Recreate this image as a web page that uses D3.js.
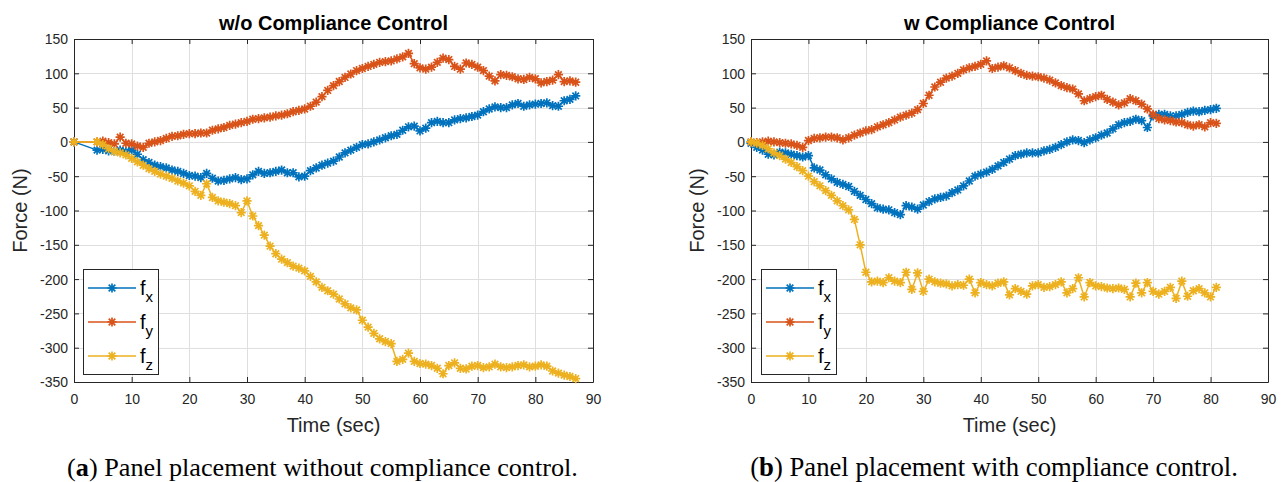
<!DOCTYPE html>
<html><head><meta charset="utf-8">
<script src="https://cdn.jsdelivr.net/npm/d3@7"></script>
<style>body{margin:0;background:#fff} svg{display:block}</style>
</head><body>
<svg id="c" width="1285" height="482"></svg>
<script>
// ---------------- DATA ----------------
const timeA = [0,
 4,5,6,7,8,9,10,11,12,13,
 14,15,16,17,18,19,20,21,22,23,
 24,25,26,27,28,29,30,31,32,33,
 34,35,36,37,38,39,40,41,42,43,
 44,45,46,47,48,49,50,51,52,53,
 54,55,56,57,58,59,60,61,62,63,
 64,65,66,67,68,69,70,71,72,73,
 74,75,76,77,78,79,80,81,82,83,
 84,85,86,87];
const fxA = [0,
 -12,-11,-13,-14,-12,-14,-12,-18,-26,-30,
 -34,-36,-38,-41,-43,-46,-49,-50,-52,-46,
 -53,-57,-56,-54,-52,-55,-54,-48,-43,-46,
 -45,-43,-41,-45,-45,-51,-50,-42,-38,-34,
 -31,-28,-22,-16,-12,-8,-4,-3,0,3,
 6,9,11,17,22,23,16,20,28,30,
 28,28,32,34,35,37,39,44,48,51,
 50,50,54,56,52,54,55,56,57,53,
 52,60,62,67];
const fyA = [0,
 0,1,-1,-3,7,-2,-3,-6,-8,-2,
 0,2,5,8,9,11,12,12,13,13,
 17,19,21,24,26,28,30,33,34,35,
 36,38,39,41,44,46,48,52,58,66,
 75,82,88,94,99,104,107,110,113,116,
 117,118,121,124,129,114,108,106,109,116,
 122,120,110,106,115,113,109,104,96,89,
 98,97,95,92,91,94,92,86,88,90,
 98,88,89,87];
const fzA = [0,
 0,-4,-10,-14,-16,-19,-24,-29,-34,-39,
 -43,-47,-50,-53,-57,-60,-64,-72,-78,-61,
 -81,-86,-88,-90,-93,-103,-86,-108,-122,-136,
 -152,-163,-171,-176,-181,-184,-188,-196,-204,-212,
 -217,-222,-229,-236,-242,-245,-260,-270,-279,-287,
 -291,-294,-320,-317,-308,-320,-323,-324,-326,-330,
 -338,-326,-322,-330,-331,-327,-326,-329,-328,-324,
 -328,-329,-328,-326,-325,-328,-327,-325,-327,-334,
 -337,-340,-342,-345];

const timeB = [
 0,1,2,3,4,5,6,7,8,9,
 10,11,12,13,14,15,16,17,18,19,
 20,21,22,23,24,25,26,27,28,29,
 30,31,32,33,34,35,36,37,38,39,
 40,41,42,43,44,45,46,47,48,49,
 50,51,52,53,54,55,56,57,58,59,
 60,61,62,63,64,65,66,67,68,69,
 70,71,72,73,74,75,76,77,78,79,
 80,81];
const fxB = [
 -2,-8,-12,-18,-19,-15,-16,-18,-20,-22,
 -20,-38,-41,-48,-54,-59,-62,-65,-72,-78,
 -84,-90,-96,-98,-99,-103,-106,-93,-95,-98,
 -92,-87,-83,-81,-79,-74,-70,-64,-57,-50,
 -47,-44,-40,-35,-30,-25,-20,-18,-16,-16,
 -16,-13,-11,-8,-4,0,3,2,-1,3,
 6,10,13,19,25,28,30,33,31,21,
 38,40,40,38,38,40,43,45,44,46,
 47,49];
const fyB = [
 0,-1,0,1,0,-1,-2,-3,-5,-8,
 2,5,6,7,7,6,3,6,10,13,
 16,18,22,25,28,32,36,39,42,47,
 56,68,80,87,93,96,100,105,108,110,
 113,118,107,109,111,108,104,100,97,96,
 95,93,90,86,82,79,77,70,60,63,
 66,68,62,58,54,57,63,60,55,48,
 40,34,32,31,29,28,25,23,25,22,
 28,27];
const fzB = [
 0,-2,-5,-10,-16,-20,-25,-30,-36,-42,
 -50,-58,-64,-71,-78,-86,-93,-99,-113,-150,
 -190,-204,-203,-205,-198,-203,-205,-190,-215,-191,
 -218,-200,-204,-206,-207,-210,-208,-209,-200,-220,
 -205,-208,-210,-206,-204,-223,-214,-218,-222,-210,
 -208,-212,-211,-208,-204,-220,-214,-198,-226,-205,
 -210,-211,-213,-214,-213,-215,-226,-206,-220,-205,
 -218,-222,-218,-212,-228,-203,-225,-217,-214,-220,
 -226,-212];

const xTicks = [0,10,20,30,40,50,60,70,80,90];
const yTicks = [150,100,50,0,-50,-100,-150,-200,-250,-300,-350];
const seriesSubs = ["x","y","z"];
const seriesColors = ["#0072BD","#D95319","#EDB120"];
const titles = ["w/o Compliance Control","w Compliance Control"];
const captionLetters = ["a","b"];
const captionTexts = [" Panel placement without compliance control."," Panel placement with compliance control."];
const xLabel = "Time (sec)";
const yLabel = "Force (N)";

// ---------------- DRAW ----------------
const svg = d3.select("#c");
const AX = "#262626";
const SANS = "'Liberation Sans', Arial, Helvetica, sans-serif";

const panels = [
  {left:74, right:593, top:39, bottom:382, time:timeA, series:[fxA,fyA,fzA], legX:83, capCenter:322.5, capWidth:511},
  {left:751, right:1268, top:39, bottom:382, time:timeB, series:[fxB,fyB,fzB], legX:761, capCenter:994, capWidth:488}
];

function asterisk(r) {
  const d = r*0.72;
  return `M${-r},0L${r},0M0,${-r}L0,${r}M${-d},${-d}L${d},${d}M${-d},${d}L${d},${-d}`;
}
const MR = 4.6, MW = 1.7;

panels.forEach((p, pi) => {
  const x = d3.scaleLinear().domain([0,90]).range([p.left, p.right]);
  const y = d3.scaleLinear().domain([-350,150]).range([p.bottom, p.top]);
  const g = svg.append("g");

  // grid
  g.append("g").selectAll("line").data(xTicks.slice(1,-1)).join("line")
    .attr("x1", d => Math.round(x(d))+0.5).attr("x2", d => Math.round(x(d))+0.5)
    .attr("y1", p.top).attr("y2", p.bottom)
    .attr("stroke", "#dfdfdf").attr("stroke-width", 1);
  g.append("g").selectAll("line").data(yTicks.slice(1,-1)).join("line")
    .attr("y1", d => Math.round(y(d))+0.5).attr("y2", d => Math.round(y(d))+0.5)
    .attr("x1", p.left).attr("x2", p.right)
    .attr("stroke", "#dfdfdf").attr("stroke-width", 1);

  // axes
  const tl = 5;
  const xb = g.append("g").attr("transform", `translate(0,${p.bottom})`)
    .call(d3.axisBottom(x).tickValues(xTicks).tickSizeInner(-tl).tickSizeOuter(0).tickPadding(12).tickFormat(d3.format("d")));
  const yl = g.append("g").attr("transform", `translate(${p.left},0)`)
    .call(d3.axisLeft(y).tickValues(yTicks).tickSizeInner(-tl).tickSizeOuter(0).tickPadding(6).tickFormat(d => d));
  const xt = g.append("g").attr("transform", `translate(0,${p.top})`)
    .call(d3.axisTop(x).tickValues(xTicks).tickSizeInner(-tl).tickSizeOuter(0).tickFormat(""));
  const yr = g.append("g").attr("transform", `translate(${p.right},0)`)
    .call(d3.axisRight(y).tickValues(yTicks).tickSizeInner(-tl).tickSizeOuter(0).tickFormat(""));
  [xb,yl,xt,yr].forEach(a => {
    a.select(".domain").attr("stroke", AX).attr("stroke-width", 1);
    a.selectAll(".tick line").attr("stroke", AX);
    a.selectAll(".tick text").attr("fill", AX).attr("font-family", SANS).attr("font-size", 14);
  });
  xb.selectAll(".tick text").attr("dy", "0.71em");
  yl.selectAll(".tick text").attr("dy", "0.35em");

  // series
  const line = d3.line().x((d,i) => x(p.time[i])).y(d => y(d));
  p.series.forEach((vals, si) => {
    const col = seriesColors[si];
    g.append("path").datum(vals).attr("d", line)
      .attr("fill","none").attr("stroke", col).attr("stroke-width", 1.5).attr("stroke-linejoin","round");
    g.append("g").selectAll("path").data(vals).join("path")
      .attr("transform", (d,i) => `translate(${x(p.time[i])},${y(d)})`)
      .attr("d", asterisk(MR))
      .attr("stroke", col).attr("stroke-width", MW).attr("fill","none");
  });

  // title
  g.append("text").attr("x", (p.left+p.right)/2).attr("y", 30)
    .attr("text-anchor","middle").attr("font-family", SANS).attr("font-weight","bold")
    .attr("font-size", 20).attr("fill","#000").text(titles[pi]);

  // axis labels
  g.append("text").attr("x", (p.left+p.right)/2).attr("y", 432)
    .attr("text-anchor","middle").attr("font-family", SANS).attr("font-size", 20)
    .attr("fill", AX).text(xLabel);
  g.append("text").attr("transform", `translate(${p.left-47},${(p.top+p.bottom)/2}) rotate(-90)`)
    .attr("text-anchor","middle").attr("font-family", SANS).attr("font-size", 20)
    .attr("fill", AX).text(yLabel);

  // legend
  const lx = p.legX, ly = 269;
  const lg = g.append("g");
  lg.append("rect").attr("x", lx+0.5).attr("y", ly+0.5).attr("width", 75).attr("height", 105)
    .attr("fill","#fff").attr("stroke", AX).attr("stroke-width", 1);
  seriesSubs.forEach((s, si) => {
    const ry = 288 + si*34;
    const col = seriesColors[si];
    lg.append("line").attr("x1", lx+5).attr("x2", lx+53).attr("y1", ry).attr("y2", ry)
      .attr("stroke", col).attr("stroke-width", 1.5);
    lg.append("path").attr("transform", `translate(${lx+29},${ry})`).attr("d", asterisk(MR))
      .attr("stroke", col).attr("stroke-width", MW).attr("fill","none");
    const t = lg.append("text").attr("x", lx+57).attr("y", ry+7)
      .attr("font-family", SANS).attr("font-size", 20).attr("fill","#000");
    t.append("tspan").text("f");
    t.append("tspan").attr("dy", 7).attr("font-size", 15).text(s);
  });

  // caption
  const cap = svg.append("text").attr("y", 476).attr("text-anchor","start")
    .attr("font-family", "'Liberation Serif', 'Times New Roman', serif").attr("font-size", 20).attr("fill","#000");
  cap.append("tspan").text("(");
  cap.append("tspan").attr("font-weight","bold").text(captionLetters[pi]);
  cap.append("tspan").text(")" + captionTexts[pi]);
  const w0 = cap.node().getComputedTextLength();
  const fs = 20 * p.capWidth / w0;
  cap.attr("font-size", fs);
  const w1 = cap.node().getComputedTextLength();
  cap.attr("x", p.capCenter - w1/2);
});
</script>
</body></html>
